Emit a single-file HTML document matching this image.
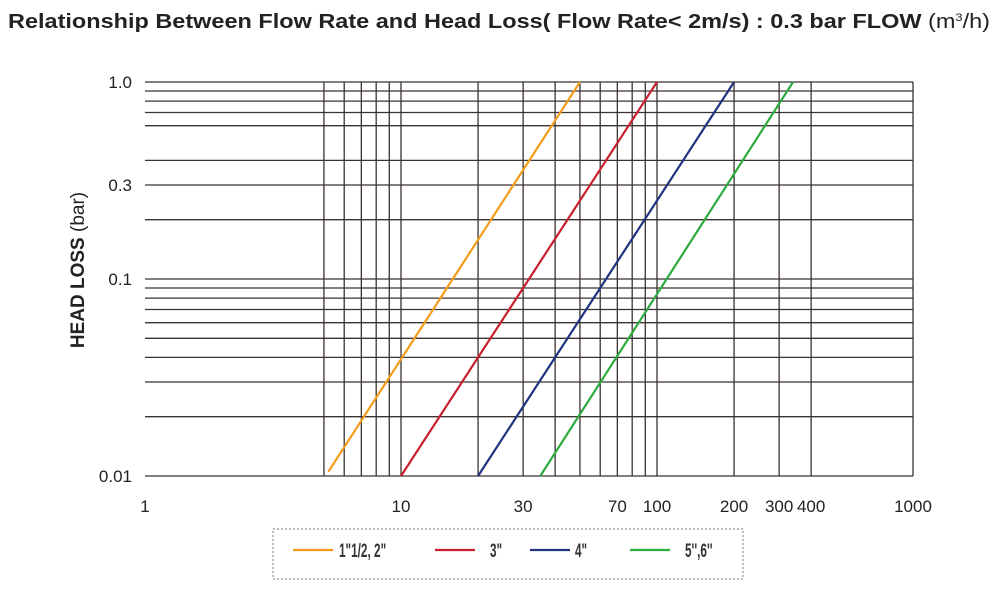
<!DOCTYPE html>
<html><head><meta charset="utf-8"><style>
body{margin:0;background:#fff;}
svg text{font-family:"Liberation Sans",sans-serif;}
</style></head><body>
<svg width="1000" height="589" viewBox="0 0 1000 589">
<text x="8" y="28" font-size="20" font-weight="bold" fill="#222" textLength="982" lengthAdjust="spacingAndGlyphs">Relationship Between Flow Rate and Head Loss( Flow Rate&lt; 2m/s)  :  0.3 bar   FLOW <tspan font-weight="normal">(m<tspan font-size="11" dy="-7">3</tspan><tspan dy="7">/h)</tspan></tspan></text>
<g id="grid"></g>
<g id="series"></g>
<g id="ticks"></g>
<text transform="translate(84,270) rotate(-90)" text-anchor="middle" font-size="19" fill="#222"><tspan font-weight="bold">HEAD LOSS</tspan> (bar)</text>
<rect x="273" y="529" width="470" height="50" fill="none" stroke="#777" stroke-dasharray="2,2"/>
<g id="legend"></g>
</svg>
<script>
const xGridValues=[5,6,7,8,9,10,20,30,40,50,60,70,80,90,100,200,300,400];
const yGridValues=[1,0.9,0.8,0.7,0.6,0.4,0.3,0.2,0.1,0.09,0.08,0.07,0.06,0.05,0.04,0.03,0.02,0.01];
const xTickLabels=["1","10","30","70","100","200","300","400","1000"];
const xTickValues=[1,10,30,70,100,200,300,400,1000];
const yTickLabels=["1.0","0.3","0.1","0.01"];
const yTickValues=[1,0.3,0.1,0.01];
const seriesNames=['1"1/2, 2"','3"','4"',"5'',6''"];
const seriesColors=["#f39c1a","#c8202e","#1f3380","#2eaa3e"];
const seriesFlowStart=[5.2,10,20,35];
const seriesFlowEnd=[50,100,200,340];
const seriesLossStart=[0.0105,0.01,0.01,0.01];
const seriesLossEnd=[1,1,1,1];
const NS="http://www.w3.org/2000/svg";
const X0=145,X1=913,Y0=82,Y1=476;
const xs=v=>X0+(Math.log10(v)-0)/3*(X1-X0);
const ys=v=>Y0+(0-Math.log10(v))/2*(Y1-Y0);
function mk(t,a,p){const e=document.createElementNS(NS,t);for(const k in a)e.setAttribute(k,a[k]);p.appendChild(e);return e;}
const g=document.getElementById('grid');
yGridValues.forEach(v=>{const l=mk('line',{x1:X0,x2:X1,y1:ys(v),y2:ys(v),stroke:'#3a3330','stroke-width':1.3},g);

});
xGridValues.forEach(v=>{const l=mk('line',{x1:xs(v),x2:xs(v),y1:Y0,y2:Y1,stroke:'#3a3330','stroke-width':1.3},g);

});
const b=mk('line',{x1:X1,x2:X1,y1:Y0,y2:Y1,stroke:'#3a3330','stroke-width':1.3},g);


const s=document.getElementById('series');
seriesNames.forEach((n,i)=>{const l=mk('line',{x1:xs(seriesFlowStart[i]),y1:ys(seriesLossStart[i]),x2:xs(seriesFlowEnd[i]),y2:ys(seriesLossEnd[i]),stroke:seriesColors[i],'stroke-width':2.2},s);

});
const t=document.getElementById('ticks');
xTickValues.forEach((v,i)=>{const e=mk('text',{x:xs(v),y:512,'text-anchor':'middle','font-size':17,fill:'#222'},t);e.textContent=xTickLabels[i];

});
yTickValues.forEach((v,i)=>{const e=mk('text',{x:132,y:ys(v)+6,'text-anchor':'end','font-size':17,fill:'#222'},t);e.textContent=yTickLabels[i];

});
const lg=document.getElementById('legend');
const lx=[293,435,530,630],tx=[339,490,575,685];
seriesNames.forEach((n,i)=>{const l=mk('line',{x1:lx[i],x2:lx[i]+40,y1:550,y2:550,stroke:seriesColors[i],'stroke-width':2.2},lg);


const e=mk('text',{x:tx[i],y:557,'font-size':19,fill:'#333','font-weight':'bold',transform:`translate(${tx[i]},0) scale(0.62,1) translate(${-tx[i]},0)`},lg);e.textContent=n;

});
</script>
</body></html>
